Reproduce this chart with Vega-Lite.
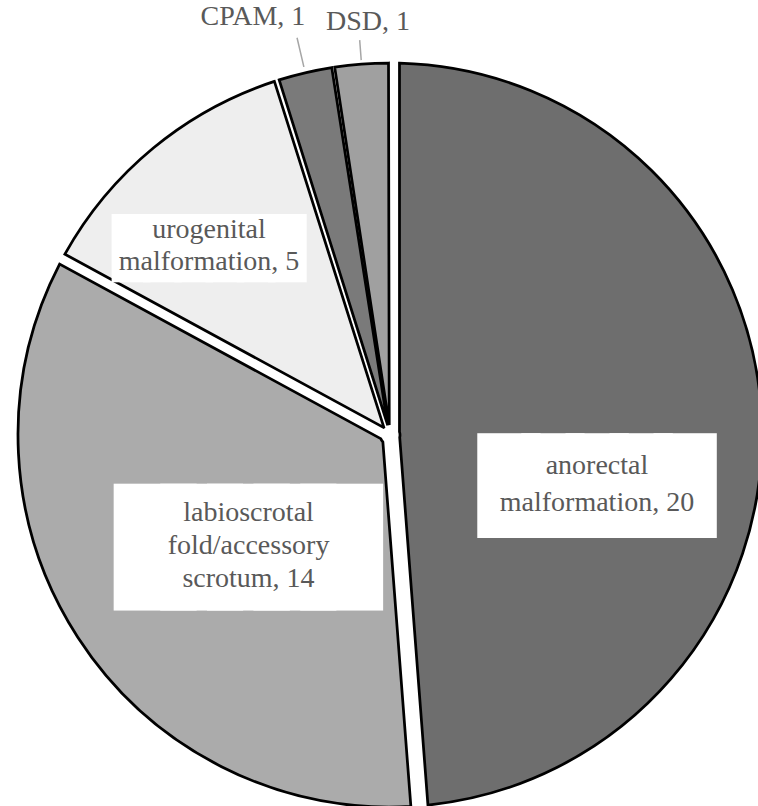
{
  "$schema": "https://vega.github.io/schema/vega-lite/v6.json",
  "width": 736,
  "height": 742,
  "autosize": {"type": "none"},
  "padding": {"left": 22, "top": 64, "right": 0, "bottom": 0},
  "background": "white",
  "config": {"view": {"stroke": null}},
  "data": {
    "values": [
      {"category": "anorectal malformation", "value": 20, "order": 1, "label": "anorectal\nmalformation, 20"},
      {"category": "labioscrotal fold/accessory scrotum", "value": 14, "order": 2, "label": "labioscrotal\nfold/accessory\nscrotum, 14"},
      {"category": "urogenital malformation", "value": 5, "order": 3, "label": "urogenital\nmalformation, 5"},
      {"category": "CPAM", "value": 1, "order": 4, "label": "CPAM, 1"},
      {"category": "DSD", "value": 1, "order": 5, "label": "DSD, 1"}
    ]
  },
  "transform": [
    {"stack": "value", "groupby": [], "sort": [{"field": "order", "order": "ascending"}], "as": ["v0", "v1"]}
  ],
  "layer": [
    {
      "transform": [{"filter": "datum.order == 1"}],
      "mark": {"type": "arc", "padAngle": 0.051, "innerRadius": 10, "outerRadius": 372, "stroke": "black", "strokeWidth": 2.75, "fill": "#6e6e6e"},
      "encoding": {"theta": {"field": "v0", "type": "quantitative", "scale": {"domain": [0, 41]}}, "theta2": {"field": "v1"}}
    },
    {
      "transform": [{"filter": "datum.order == 2"}],
      "mark": {"type": "arc", "padAngle": 0.041, "innerRadius": 10, "outerRadius": 372, "stroke": "black", "strokeWidth": 2.75, "fill": "#ababab"},
      "encoding": {"theta": {"field": "v0", "type": "quantitative", "scale": {"domain": [0, 41]}}, "theta2": {"field": "v1"}}
    },
    {
      "transform": [{"filter": "datum.order == 3"}],
      "mark": {"type": "arc", "padAngle": 0.019, "innerRadius": 10, "outerRadius": 372, "stroke": "black", "strokeWidth": 2.75, "fill": "#eeeeee"},
      "encoding": {"theta": {"field": "v0", "type": "quantitative", "scale": {"domain": [0, 41]}}, "theta2": {"field": "v1"}}
    },
    {
      "transform": [{"filter": "datum.order == 4"}],
      "mark": {"type": "arc", "padAngle": 0.008, "innerRadius": 10, "outerRadius": 372, "stroke": "black", "strokeWidth": 2.75, "fill": "#7a7a7a"},
      "encoding": {"theta": {"field": "v0", "type": "quantitative", "scale": {"domain": [0, 41]}}, "theta2": {"field": "v1"}}
    },
    {
      "transform": [{"filter": "datum.order == 5"}],
      "mark": {"type": "arc", "padAngle": 0.008, "innerRadius": 10, "outerRadius": 372, "stroke": "black", "strokeWidth": 2.75, "fill": "#a0a0a0"},
      "encoding": {"theta": {"field": "v0", "type": "quantitative", "scale": {"domain": [0, 41]}}, "theta2": {"field": "v1"}}
    },
    {
      "transform": [{"filter": "datum.order == 4"}],
      "mark": {"type": "arc", "padAngle": 1, "innerRadius": 378, "outerRadius": 408, "filled": false, "stroke": "#a6a6a6", "strokeWidth": 1.5},
      "encoding": {"theta": {"field": "v0", "type": "quantitative", "scale": {"domain": [0, 41]}}, "theta2": {"field": "v1"}}
    },
    {
      "transform": [{"filter": "datum.order == 5"}],
      "mark": {"type": "arc", "padAngle": 1, "innerRadius": 376, "outerRadius": 396, "filled": false, "stroke": "#a6a6a6", "strokeWidth": 1.5},
      "encoding": {"theta": {"field": "v0", "type": "quantitative", "scale": {"domain": [0, 41]}}, "theta2": {"field": "v1"}}
    },
    {
      "transform": [{"filter": "datum.order == 1"}],
      "mark": {"type": "text", "text": "█████", "font": "DejaVu Sans Mono", "fontSize": 73.2, "fill": "white", "stroke": "white", "strokeWidth": 17.7, "strokeJoin": "miter", "align": "center", "baseline": "middle", "radius": 212.8, "thetaOffset": 1.8055, "dy": 5},
      "encoding": {"theta": {"field": "v0", "type": "quantitative", "scale": {"domain": [0, 41]}}}
    },
    {
      "transform": [{"filter": "datum.order == 2"}],
      "mark": {"type": "text", "text": "█████", "font": "DejaVu Sans Mono", "fontSize": 77.5, "fill": "white", "stroke": "white", "strokeWidth": 34.7, "strokeJoin": "miter", "align": "center", "baseline": "middle", "radius": 179.8, "thetaOffset": 0.9823, "dy": 5.3},
      "encoding": {"theta": {"field": "v0", "type": "quantitative", "scale": {"domain": [0, 41]}}}
    },
    {
      "transform": [{"filter": "datum.order == 3"}],
      "mark": {"type": "text", "text": "██████", "font": "DejaVu Sans Mono", "fontSize": 51.9, "fill": "white", "stroke": "white", "strokeWidth": 6.5, "strokeJoin": "miter", "align": "center", "baseline": "middle", "radius": 261.5, "thetaOffset": 0.3082, "dy": 3.5},
      "encoding": {"theta": {"field": "v0", "type": "quantitative", "scale": {"domain": [0, 41]}}}
    },
    {
      "transform": [{"filter": "datum.order == 1"}],
      "mark": {"type": "text", "font": "Liberation Serif", "fontSize": 28, "lineHeight": 37, "fill": "#595959", "align": "center", "baseline": "middle", "lineBreak": "\n", "radius": 212.8, "thetaOffset": 1.8055, "dy": -18.5},
      "encoding": {"theta": {"field": "v0", "type": "quantitative", "scale": {"domain": [0, 41]}}, "text": {"field": "label"}}
    },
    {
      "transform": [{"filter": "datum.order == 2"}],
      "mark": {"type": "text", "font": "Liberation Serif", "fontSize": 28, "lineHeight": 33, "fill": "#595959", "align": "center", "baseline": "middle", "lineBreak": "\n", "radius": 179.8, "thetaOffset": 0.9823, "dy": -33},
      "encoding": {"theta": {"field": "v0", "type": "quantitative", "scale": {"domain": [0, 41]}}, "text": {"field": "label"}}
    },
    {
      "transform": [{"filter": "datum.order == 3"}],
      "mark": {"type": "text", "font": "Liberation Serif", "fontSize": 28, "lineHeight": 32, "fill": "#595959", "align": "center", "baseline": "middle", "lineBreak": "\n", "radius": 261.5, "thetaOffset": 0.3082, "dy": -16},
      "encoding": {"theta": {"field": "v0", "type": "quantitative", "scale": {"domain": [0, 41]}}, "text": {"field": "label"}}
    },
    {
      "transform": [{"filter": "datum.order == 4"}],
      "mark": {"type": "text", "font": "Liberation Serif", "fontSize": 28, "fill": "#595959", "align": "center", "baseline": "middle", "radius": 439.9, "thetaOffset": -0.0103},
      "encoding": {"theta": {"field": "v0", "type": "quantitative", "scale": {"domain": [0, 41]}}, "text": {"field": "label"}}
    },
    {
      "transform": [{"filter": "datum.order == 5"}],
      "mark": {"type": "text", "font": "Liberation Serif", "fontSize": 28, "fill": "#595959", "align": "center", "baseline": "middle", "radius": 413.6, "thetaOffset": 0.1001},
      "encoding": {"theta": {"field": "v0", "type": "quantitative", "scale": {"domain": [0, 41]}}, "text": {"field": "label"}}
    }
  ]
}
